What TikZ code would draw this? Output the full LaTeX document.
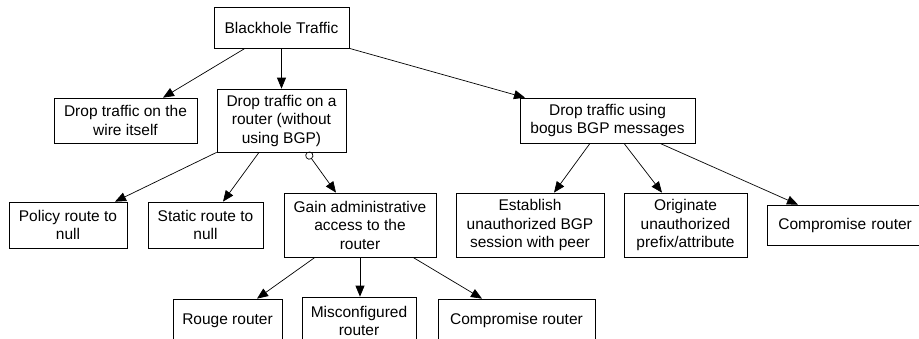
\documentclass[tikz,border=0pt]{standalone}
\usepackage{fontspec}
\setmainfont{Liberation Sans}
\usetikzlibrary{arrows.meta}

\tikzset{
  box/.style={draw, line width=0.7pt, inner sep=0pt, align=center,
    font=\fontsize{15.5}{18.5}\selectfont},
  edge/.style={line width=0.7pt, -{Triangle[length=11pt,width=9pt]}},
}

\begin{document}
\begin{tikzpicture}[x=1pt,y=-1pt]

	\path[use as bounding box, fill=white] (0,0) rectangle (919,338);

	% first level
	\node[box, minimum width=135pt, minimum height=41pt] (top) at (281.5,27.5) {Blackhole Traffic};

	\node[box, minimum width=143pt, minimum height=45pt] (wire) at (125.5,120.5) {Drop traffic on the\\wire itself};
	\node[box, minimum width=129pt, minimum height=63pt] (router) at (281.5,120.5) {Drop traffic on a\\router (without\\using BGP)};
	\node[box, minimum width=175pt, minimum height=45pt] (bogus) at (607.5,120.5) {Drop traffic using\\bogus BGP messages};

	% second level
	\node[box, minimum width=118pt, minimum height=46pt] (policy) at (68,225) {Policy route to\\null};
	\node[box, minimum width=115pt, minimum height=46pt] (static) at (205.5,225) {Static route to\\null};
	\node[box, minimum width=152pt, minimum height=64pt] (gain) at (360,225) {Gain administrative\\access to the\\router};
	\node[box, minimum width=148pt, minimum height=64pt] (session) at (530,225) {Establish\\unauthorized BGP\\session with peer};
	\node[box, minimum width=123pt, minimum height=64pt] (prefix) at (685.5,225) {Originate\\unauthorized\\prefix/attribute};
	% runs off the right edge
	\node[box, anchor=west, inner xsep=11pt, text width=150pt, align=left, minimum height=40pt] (comprA) at (767,225) {Compromise router};

	% third level
	\node[box, minimum width=109pt, minimum height=43pt] (rouge) at (227.5,320.5) {Rouge router};
	\node[box, minimum width=114pt, minimum height=48pt] (misconf) at (359,321) {Misconfigured\\router};
	\node[box, minimum width=157pt, minimum height=43pt] (comprB) at (516.5,320.5) {Compromise router};

	\draw[edge] ([xshift=-36.5pt]top.south) -- ([xshift=37.5pt]wire.north);
	\draw[edge] (top.south) -- (router.north);
	\draw[edge] (top.south east) -- ([xshift=-82.5pt]bogus.north);

	\draw[edge] (router.south west) -- ([xshift=47pt]policy.north);
	\draw[edge] ([xshift=-22.5pt]router.south) -- ([xshift=17.5pt]static.north);
	\draw[edge, {Circle[open,length=8pt]}-{Triangle[length=11pt,width=9pt]}] ([xshift=25.5pt]router.south) -- ([xshift=-24pt]gain.north);

	\draw[edge] ([xshift=-17.5pt]bogus.south) -- ([xshift=24pt]session.north);
	\draw[edge] ([xshift=16.5pt]bogus.south) -- ([xshift=-23.5pt]prefix.north);
	\draw[edge] ([xshift=52.5pt]bogus.south) -- ([xshift=798pt-767pt]comprA.north west);

	\draw[edge] ([xshift=-45pt]gain.south) -- ([xshift=29.5pt]rouge.north);
	\draw[edge] (gain.south) -- (gain.south |- misconf.north);
	\draw[edge] ([xshift=53pt]gain.south) -- ([xshift=-34.5pt]comprB.north);

\end{tikzpicture}
\end{document}
